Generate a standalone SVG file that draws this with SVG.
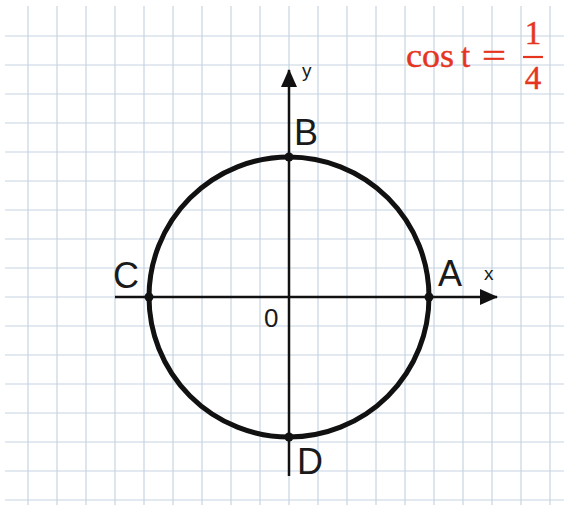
<svg xmlns="http://www.w3.org/2000/svg" width="564" height="505" viewBox="0 0 564 505">
<defs>
<style>
.grid line{stroke:#c6d4e2;stroke-width:1.2}
.axis{stroke:#111;stroke-width:2.5;fill:none}
.lbl{font-family:"Liberation Sans",Arial,sans-serif;fill:#1a1a1a}
.red{font-family:"Liberation Serif","Times New Roman",serif;fill:#e5351f;font-size:33px;stroke:#e5351f;stroke-width:0.4}
.pt{fill:#111}
</style>
<marker id="arr" viewBox="0 0 18 16" refX="17" refY="8" markerWidth="18" markerHeight="16" markerUnits="userSpaceOnUse" orient="auto">
<path d="M0,0 L18,8 L0,16 Z" fill="#111"/>
</marker>
</defs>
<rect width="564" height="505" fill="#ffffff"/>
<g class="grid" id="grid">
<line x1="28" y1="6" x2="28" y2="505"/><line x1="57" y1="6" x2="57" y2="505"/><line x1="86" y1="6" x2="86" y2="505"/><line x1="115" y1="6" x2="115" y2="505"/><line x1="144" y1="6" x2="144" y2="505"/><line x1="173" y1="6" x2="173" y2="505"/><line x1="202" y1="6" x2="202" y2="505"/><line x1="231" y1="6" x2="231" y2="505"/><line x1="260" y1="6" x2="260" y2="505"/><line x1="289" y1="6" x2="289" y2="505"/><line x1="318" y1="6" x2="318" y2="505"/><line x1="347" y1="6" x2="347" y2="505"/><line x1="376" y1="6" x2="376" y2="505"/><line x1="405" y1="6" x2="405" y2="505"/><line x1="434" y1="6" x2="434" y2="505"/><line x1="463" y1="6" x2="463" y2="505"/><line x1="492" y1="6" x2="492" y2="505"/><line x1="521" y1="6" x2="521" y2="505"/><line x1="550" y1="6" x2="550" y2="505"/>
<line x1="5" y1="36" x2="564" y2="36"/><line x1="5" y1="65" x2="564" y2="65"/><line x1="5" y1="94" x2="564" y2="94"/><line x1="5" y1="123" x2="564" y2="123"/><line x1="5" y1="152" x2="564" y2="152"/><line x1="5" y1="181" x2="564" y2="181"/><line x1="5" y1="210" x2="564" y2="210"/><line x1="5" y1="239" x2="564" y2="239"/><line x1="5" y1="268" x2="564" y2="268"/><line x1="5" y1="297" x2="564" y2="297"/><line x1="5" y1="326" x2="564" y2="326"/><line x1="5" y1="355" x2="564" y2="355"/><line x1="5" y1="384" x2="564" y2="384"/><line x1="5" y1="413" x2="564" y2="413"/><line x1="5" y1="442" x2="564" y2="442"/><line x1="5" y1="471" x2="564" y2="471"/><line x1="5" y1="500" x2="564" y2="500"/>
</g>
<g id="connectors">
<line id="x-axis" class="axis" x1="115" y1="297" x2="497" y2="297" marker-end="url(#arr)"/>
<line id="y-axis" class="axis" x1="289" y1="476" x2="289" y2="70" marker-end="url(#arr)"/>
</g>
<g id="circle">
<circle cx="289" cy="297" r="140" fill="none" stroke="#111" stroke-width="5"/>
</g>
<g id="A"><circle class="pt" cx="429" cy="297" r="4.5"/><text class="lbl" x="438" y="286" font-size="36">A</text></g>
<g id="B"><circle class="pt" cx="289" cy="157" r="4.5"/><text class="lbl" x="294" y="145" font-size="36">B</text></g>
<g id="C"><circle class="pt" cx="149" cy="297" r="4.5"/><text class="lbl" x="113" y="288" font-size="36">C</text></g>
<g id="D"><circle class="pt" cx="289" cy="437" r="4.5"/><text class="lbl" x="297" y="474" font-size="36">D</text></g>
<g id="O"><text class="lbl" x="264" y="327" font-size="26">0</text></g>
<g id="x-label"><text class="lbl" x="484" y="280" font-size="19">x</text></g>
<g id="y-label"><text class="lbl" x="302" y="77" font-size="19">y</text></g>
<g id="formula">
<text class="red" y="67"><tspan x="406" textLength="48" lengthAdjust="spacingAndGlyphs">cos</tspan><tspan x="461">t</tspan><tspan x="482" textLength="24" lengthAdjust="spacingAndGlyphs">=</tspan></text>
<text class="red" x="533" y="44" text-anchor="middle">1</text>
<line x1="523" y1="57" x2="543" y2="57" stroke="#e5351f" stroke-width="2.2"/>
<text class="red" x="533" y="89" text-anchor="middle">4</text>
</g>
</svg>
